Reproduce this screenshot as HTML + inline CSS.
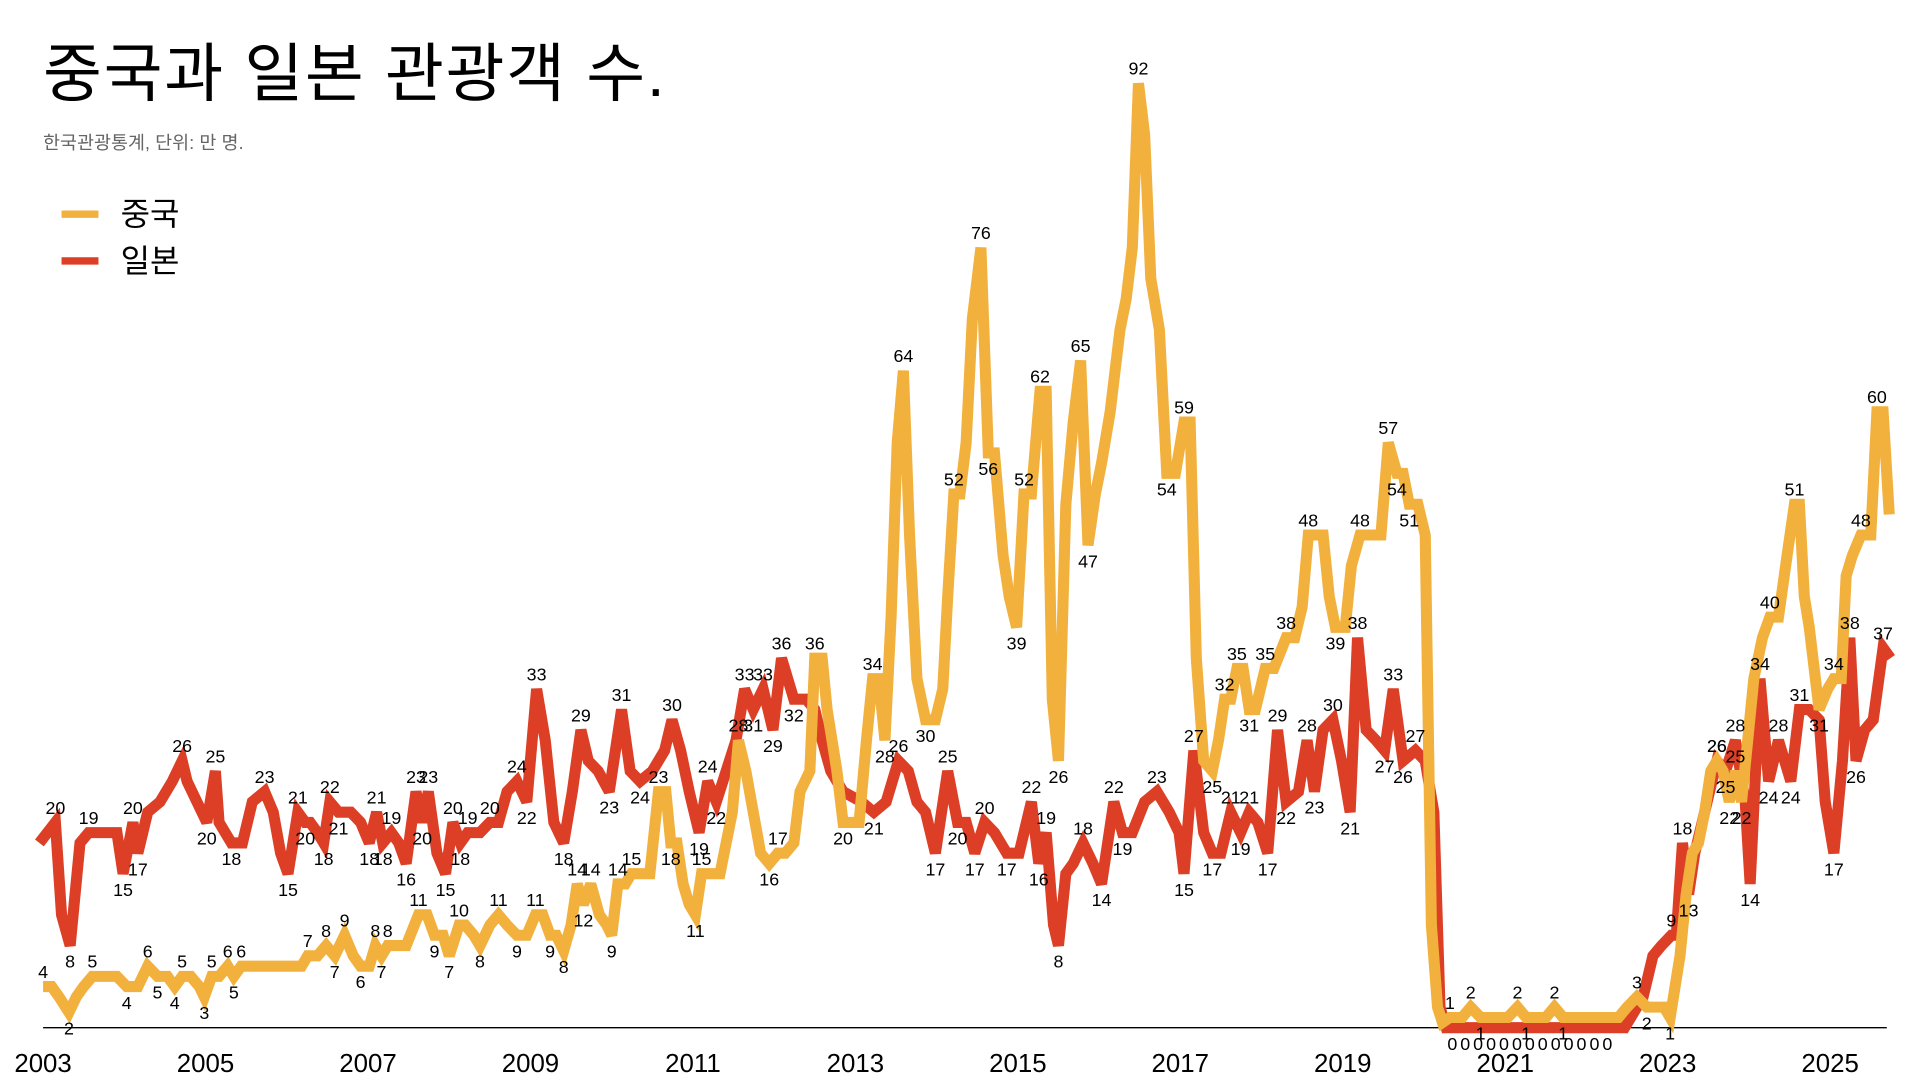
<!DOCTYPE html>
<html><head><meta charset="utf-8">
<style>
html,body{margin:0;padding:0;background:#fff;width:1920px;height:1080px;overflow:hidden}
svg{display:block}
text{font-family:"Liberation Sans","Noto Sans CJK KR",sans-serif}
</style></head><body>
<svg id="s" width="1920" height="1080" viewBox="0 0 1560 877.5" xmlns="http://www.w3.org/2000/svg">
<text x="35" y="78" font-size="52" textLength="505" fill="#000">중국과 일본 관광객 수.</text>
<text x="35" y="121" font-size="15" fill="#666">한국관광통계, 단위: 만 명.</text>
<line x1="50" y1="174" x2="80" y2="174" stroke="#F2B03D" stroke-width="6"/>
<text x="98" y="183" font-size="26" fill="#000">중국</text>
<line x1="50" y1="212" x2="80" y2="212" stroke="#DC3F26" stroke-width="6"/>
<text x="98" y="221" font-size="26" fill="#000">일본</text>
<line x1="35" y1="835" x2="1533" y2="835" stroke="#000" stroke-width="1.2"/>
<g id="yrs" font-size="21" fill="#000" text-anchor="middle"></g>
<g id="lines"></g>
<g id="labels" font-size="14.5" fill="#000" text-anchor="middle"></g>
</svg>
<script>
const Y=v=>835-v*8.34;
const jp=[[32,18],[45,20],[50,11],[57,8],[65,18],[72,19],[85,19],[95,19],[100,15],[108,20],[112,17],[120,21],[130,22],[140,24],[148,26],[152,24],[160,22],[168,20],[175,25],[178,20],[188,18],[197,18],[205,22],[215,23],[222,21],[228,17],[234,15],[242,21],[248,20],[252,20],[258,19],[263,18],[268,22],[275,21],[285,21],[293,20],[300,18],[306,21],[311,18],[318,19],[324,18],[330,16],[338,23],[343,20],[348,23],[355,17],[362,15],[368,20],[374,18],[380,19],[390,19],[398,20],[405,20],[412,23],[420,24],[428,22],[436,33],[443,28],[450,20],[458,18],[465,23],[472,29],[478,26],[486,25],[495,23],[505,31],[512,25],[520,24],[530,25],[540,27],[546,30],[553,27],[560,23],[568,19],[575,24],[582,22],[590,25],[598,28],[605,33],[612,31],[620,33],[628,29],[635,36],[645,32],[655,32],[662,31],[668,28],[675,25],[685,23],[700,22],[710,21],[720,22],[730,26],[738,25],[745,22],[752,21],[760,17],[770,25],[778,20],[785,20],[792,17],[800,20],[808,19],[818,17],[828,17],[838,22],[844,16],[850,19],[856,10],[860,8],[866,15],[872,16],[880,18],[888,16],[895,14],[905,22],[912,19],[920,19],[930,22],[940,23],[950,21],[958,19],[962,15],[970,27],[978,19],[985,17],[992,17],[1000,21],[1008,19],[1015,21],[1022,20],[1030,17],[1038,29],[1045,22],[1055,23],[1062,28],[1068,23],[1075,29],[1083,30],[1090,26],[1097,21],[1103,38],[1110,29],[1118,28],[1125,27],[1132,33],[1140,26],[1150,27],[1158,26],[1165,21],[1170,2],[1175,0],[1320,0],[1325,1],[1335,3],[1343,7],[1350,8],[1358,9],[1362,9],[1367,18],[1372,13],[1377,17],[1385,21],[1395,26],[1402,25],[1410,28],[1418,22],[1422,14],[1430,34],[1437,24],[1445,28],[1455,24],[1462,31],[1470,31],[1478,30],[1483,22],[1490,17],[1497,26],[1503,38],[1508,26],[1515,29],[1522,30],[1530,37],[1536,36]];
const cn=[[35,4],[42,4],[48,3],[56,1.5],[62,3],[68,4],[75,5],[85,5],[95,5],[103,4],[112,4],[120,6],[128,5],[136,5],[142,4],[148,5],[155,5],[162,4],[166,3],[172,5],[178,5],[185,6],[190,5],[196,6],[205,6],[215,6],[225,6],[235,6],[245,6],[250,7],[258,7],[265,8],[272,7],[280,9],[287,7],[293,6],[300,6],[305,8],[310,7],[315,8],[322,8],[330,8],[340,11],[347,11],[353,9],[360,9],[365,7],[373,10],[378,10],[385,9],[390,8],[398,10],[405,11],[412,10],[420,9],[428,9],[435,11],[441,11],[447,9],[452,9],[458,7.5],[464,10],[469,14],[474,12],[480,14],[487,11],[493,10],[497,9],[502,14],[508,14],[513,15],[520,15],[528,15],[535,23],[541,23],[545,18],[550,18],[555,14],[560,12],[565,11],[570,15],[578,15],[585,15],[590,18],[595,21],[600,28],[606,25],[612,21],[618,17],[625,16],[632,17],[638,17],[645,18],[650,23],[658,25],[662,36],[668,36],[672,31],[676,28],[680,25],[685,20],[692,20],[698,20],[704,28],[709,34],[714,34],[719,28],[724,40],[729,57],[734,64],[739,48],[745,34],[752,30],[760,30],[766,33],[770,42],[775,52],[780,52],[785,57],[790,69],[797,76],[803,56],[808,56],[815,46],[820,42],[826,39],[832,52],[838,52],[845,62],[850,62],[855,32],[860,26],[866,51],[872,59],[878,65],[884,47],[890,52],[895,55],[902,60],[910,68],[915,71],[920,76],[925,92],[930,87],[935,73],[942,68],[948,54],[955,54],[962,59],[967,59],[972,36],[978,26],[985,25],[990,28],[995,32],[1000,32],[1005,35],[1010,35],[1015,31],[1020,31],[1028,35],[1035,35],[1045,38],[1052,38],[1058,41],[1063,48],[1068,48],[1075,48],[1080,42],[1085,39],[1093,39],[1098,45],[1105,48],[1115,48],[1122,48],[1128,57],[1135,54],[1140,54],[1145,51],[1152,51],[1158,48],[1163,10],[1168,2],[1172,0.5],[1178,1],[1188,1],[1195,2],[1203,1],[1210,1],[1218,1],[1225,1],[1233,2],[1240,1],[1248,1],[1256,1],[1263,2],[1270,1],[1280,1],[1290,1],[1300,1],[1308,1],[1315,1],[1322,2],[1330,3],[1338,2],[1345,2],[1352,2],[1357,1],[1365,7],[1370,13],[1375,17],[1380,18],[1385,21],[1390,25],[1395,26],[1400,25],[1405,22],[1410,25],[1415,22],[1420,28],[1425,34],[1432,38],[1438,40],[1445,40],[1452,46],[1458,51],[1462,51],[1466,42],[1470,39],[1475,34],[1478,31],[1485,33],[1490,34],[1496,34],[1500,44],[1505,46],[1512,48],[1520,48],[1525,60],[1530,60],[1535,50]];
const NS="http://www.w3.org/2000/svg";
function el(t,a,p,txt){const e=document.createElementNS(NS,t);for(const k in a)e.setAttribute(k,a[k]);if(txt!=null)e.textContent=txt;document.getElementById(p).appendChild(e);}
for(let i=0;i<12;i++){el('text',{x:35+i*132,y:871},'yrs',String(2003+2*i));}
function poly(d,c){el('polyline',{points:d.map(p=>p[0]+','+Y(p[1]).toFixed(1)).join(' '),fill:'none',stroke:c,'stroke-width':9,'stroke-linejoin':'miter','stroke-miterlimit':3},'lines');}
poly(jp,'#DC3F26');poly(cn,'#F2B03D');
function labels(d){let last=-1,lastv=null;for(let i=0;i<d.length;i++){const v=d[i][1];const pv=i>0?d[i-1][1]:v-1,nv=i<d.length-1?d[i+1][1]:v-1;
 if(v<=0.5)continue;let up;
 if(v>=pv&&v>=nv)up=true;else if(v<=pv&&v<=nv)up=false;else continue;
 if(v===pv&&lastv===v&&last===i-1){last=i;continue;}
 const y=up?Y(v)-7:Y(v)+18;el('text',{x:d[i][0],y:y},'labels',String(Math.round(v)));last=i;lastv=v;}}
labels(cn);labels(jp);
for(let x=1180;x<=1315;x+=10.5)el('text',{x:x,y:853},'labels','0');
</script>
</body></html>
